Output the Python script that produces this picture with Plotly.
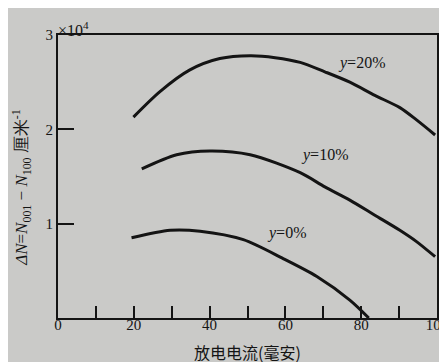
import plotly.graph_objects as go

# y = 20%
x20 = [19.9, 26.9, 34.8, 42.7, 50.7, 57.3, 63.9, 70.4, 77.0, 83.6, 90.2, 94.6, 99.5]
v20 = [2.13, 2.40, 2.63, 2.75, 2.78, 2.76, 2.71, 2.61, 2.50, 2.36, 2.23, 2.10, 1.94]
# y = 10%
x10 = [22.1, 31.3, 40.1, 50.7, 63.9, 70.4, 77.0, 83.6, 90.2, 94.6, 99.5]
v10 = [1.58, 1.73, 1.77, 1.73, 1.54, 1.39, 1.25, 1.09, 0.93, 0.81, 0.65]
# y = 0%
x0 = [19.4, 29.6, 37.5, 48.9, 59.4, 68.3, 77.0, 82.0]
v0 = [0.85, 0.93, 0.92, 0.83, 0.63, 0.44, 0.19, 0.0]

labels = ["y=20%", "y=10%", "y=0%"]
label_pos = [(80, 2.7), (70.4, 1.73), (60.4, 0.9)]

x_tickvals = list(range(0, 101, 10))
x_ticktext = [str(v) if v % 20 == 0 else "" for v in x_tickvals]
y_tickvals = [1, 2, 3]
y_ticktext = ["1", "2", "3"]

bg = "#cacac8"
ink = "#141414"
serif = "Liberation Serif"
cjk = "Noto Sans CJK SC"

fig = go.Figure()
for xs, ys in [(x20, v20), (x10, v10), (x0, v0)]:
    fig.add_trace(go.Scatter(x=xs, y=ys, mode="lines",
                             line=dict(color=ink, width=3, shape="spline", smoothing=0.8),
                             showlegend=False, hoverinfo="skip"))

for lab, (lx, ly) in zip(labels, label_pos):
    name, val = lab.split("=")
    fig.add_annotation(x=lx, y=ly, text=f"<i>{name}</i>={val}", showarrow=False,
                       font=dict(family=serif, size=16, color=ink))

fig.add_annotation(xref="paper", yref="paper", x=0.0, y=1.0, yshift=18, xanchor="left",
                   xshift=-2, text="×10<sup>4</sup>", showarrow=False,
                   font=dict(family=serif, size=16, color=ink))

# axis titles
fig.add_annotation(xref="paper", yref="paper", x=0.5, y=0.0, yshift=-34, yanchor="middle",
                   text="放电电流(毫安)", showarrow=False,
                   font=dict(family=cjk, size=16, color=ink))
fig.add_annotation(xref="paper", yref="paper", x=0.0, y=0.46, xshift=-36, xanchor="center",
                   textangle=-90,
                   text="<i>ΔN</i>=<i>N</i><sub>001</sub> − <i>N</i><sub>100</sub> 厘米<sup>-1</sup>",
                   showarrow=False, font=dict(family=serif, size=17, color=ink))

# page body has an 8px margin, so the figure is shrunk by 8px on each side of the viewport
fig.update_layout(
    width=439, height=354,
    margin=dict(l=50, r=10, t=27, b=44),
    paper_bgcolor=bg, plot_bgcolor=bg,
    font=dict(family=serif, size=14, color=ink),
    xaxis=dict(range=[0, 100], tickvals=x_tickvals, ticktext=x_ticktext,
               ticks="inside", ticklen=12, tickwidth=1.5, tickcolor=ink,
               showline=True, linecolor=ink, linewidth=2, mirror=True,
               showgrid=False, zeroline=False, automargin=False,
               ticklabelstandoff=-8, ticklabeloverflow="allow",
               tickfont=dict(family=serif, size=15, color=ink)),
    yaxis=dict(range=[0, 3], tickvals=y_tickvals, ticktext=y_ticktext,
               ticks="inside", ticklen=16, tickwidth=1.5, tickcolor=ink,
               showline=True, linecolor=ink, linewidth=2, mirror=True,
               showgrid=False, zeroline=False, automargin=False,
               ticklabeloverflow="allow",
               tickfont=dict(family=serif, size=15, color=ink)),
)

fig.write_html("out.html")
